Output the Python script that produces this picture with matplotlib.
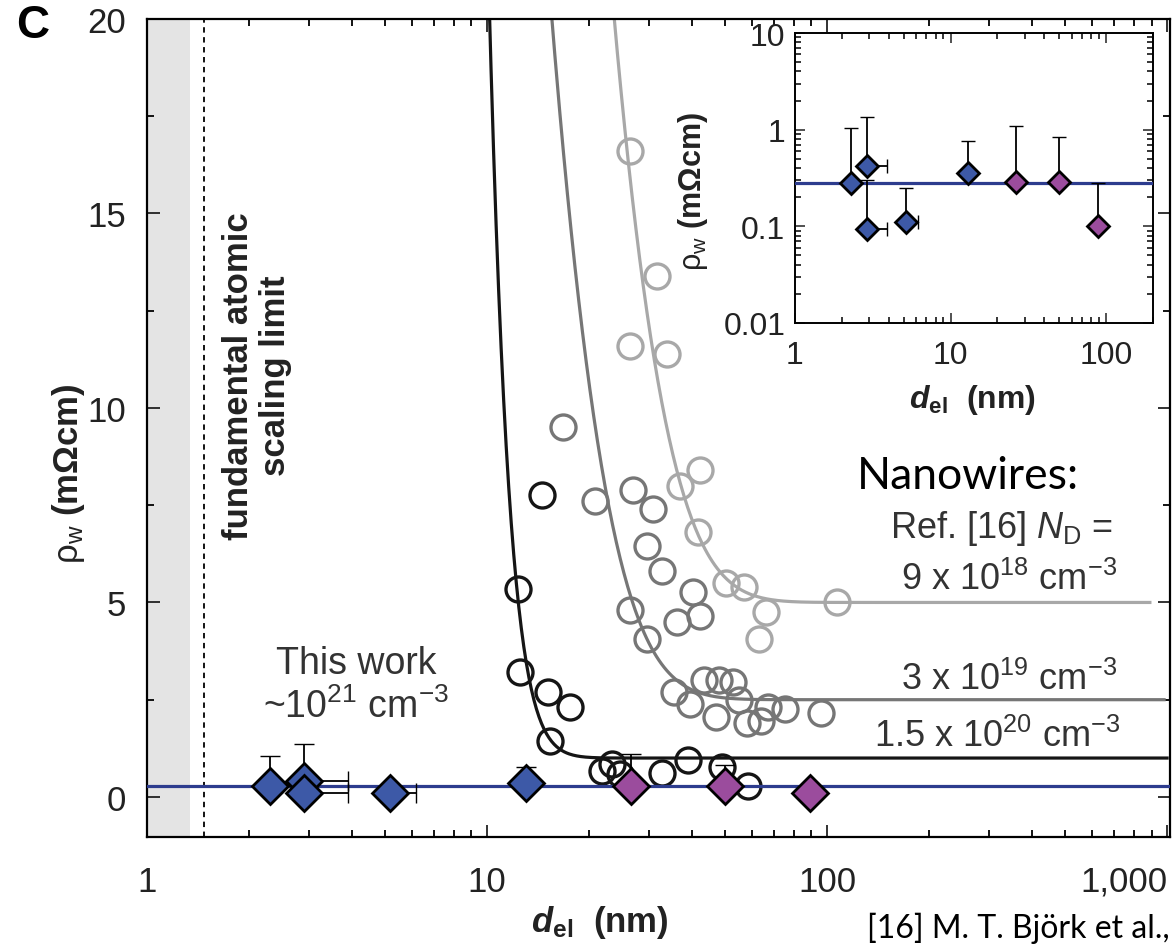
import numpy as np
import matplotlib
matplotlib.use("Agg")
import matplotlib.pyplot as plt
from matplotlib.ticker import FixedLocator, FixedFormatter, LogLocator, NullFormatter, MultipleLocator

plt.rcParams["font.family"] = ["Liberation Sans", "DejaVu Sans"]
plt.rcParams["mathtext.fontset"] = "custom"
plt.rcParams["mathtext.rm"] = "Liberation Sans"
plt.rcParams["mathtext.it"] = "Liberation Sans:italic"
plt.rcParams["mathtext.bf"] = "Liberation Sans:bold"
plt.rcParams["mathtext.bfit"] = "Liberation Sans:italic:bold"

# this work: blue = earlier devices, purple = later devices
blue_d = [2.3, 2.9, 2.9, 5.2, 13.0]
blue_rho = [0.28, 0.42, 0.093, 0.11, 0.36]
blue_rho_top = [1.05, 1.35, 0.30, 0.25, 0.77]
blue_d_right = [2.3, 3.9, 3.9, 6.2, 13.0]
purple_d = [26.5, 50.0, 89.0]
purple_rho = [0.29, 0.29, 0.10]
purple_rho_top = [1.1, 0.83, 0.28]
rho_this_work = 0.28

# Ref. [16] nanowires, three doping levels
nw_15e20_d = [12.3, 12.5, 14.5, 15.1, 15.3, 17.5, 21.8, 23.3, 24.6, 32.6, 39.0, 49.0, 58.5]
nw_15e20_rho = [5.35, 3.2, 7.75, 2.7, 1.45, 2.3, 0.67, 0.85, 0.6, 0.62, 0.95, 0.77, 0.28]
nw_3e19_d = [16.7, 20.8, 26.9, 30.8, 29.5, 32.8, 26.3, 29.5, 36.3, 40.3, 42.2,
             35.5, 39.5, 43.5, 48.0, 53.0, 47.0, 55.0, 58.0, 64.0, 67.0, 75.0, 96.0]
nw_3e19_rho = [9.5, 7.6, 7.9, 7.4, 6.45, 5.8, 4.8, 4.06, 4.5, 5.27, 4.65,
               2.7, 2.4, 3.0, 3.0, 2.95, 2.05, 2.5, 1.9, 1.95, 2.3, 2.25, 2.15]
nw_9e18_d = [26.3, 31.6, 26.3, 33.8, 42.3, 37.0, 41.7, 50.6, 57.0, 66.0, 63.0, 107.0]
nw_9e18_rho = [16.6, 13.4, 11.6, 11.4, 8.4, 8.0, 6.8, 5.5, 5.4, 4.75, 4.05, 5.0]

# fit parameters: bulk resistivity, crossover diameter, decay length, end of line
fit_rho_inf = [1.0, 2.5, 5.0]
fit_d_c = [14.3, 26.8, 32.9]
fit_lam = [1.4, 5.8, 8.4]
fit_d_end = [1000.0, 980.0, 890.0]

dark, mid, light = "#151515", "#767676", "#a8a8a8"
blue, purple, hline = "#3d59a7", "#9b4c9d", "#2d3c8e"
W, H = 1176, 945


def rho_fit(d, rho_inf, d_c, lam):
    return rho_inf * (1.0 + np.exp((d_c - d) / lam))


def ptext(fig, x, y, s, **kw):
    # place text by pixel position measured from the top-left corner
    return fig.text(x / W, 1 - y / H, s, **kw)


def draw_this_work(ax, ms, capsize, with_xerr):
    lo = [0] * len(blue_d)
    ax.errorbar(blue_d, blue_rho,
                yerr=[lo, np.array(blue_rho_top) - np.array(blue_rho)],
                xerr=[lo, np.array(blue_d_right) - np.array(blue_d)] if with_xerr else None,
                fmt="none", ecolor="black", elinewidth=1.3, capsize=capsize, zorder=4)
    ax.errorbar(purple_d, purple_rho,
                yerr=[[0] * 3, np.array(purple_rho_top) - np.array(purple_rho)],
                fmt="none", ecolor="black", elinewidth=1.3, capsize=capsize, zorder=4)
    ax.plot(blue_d, blue_rho, "D", ms=ms, mfc=blue, mec="black", mew=2, zorder=5)
    ax.plot(purple_d, purple_rho, "D", ms=ms, mfc=purple, mec="black", mew=2, zorder=5)


fig = plt.figure(figsize=(11.76, 9.45), dpi=100)
ax = fig.add_axes([147 / W, 1 - 838 / H, 1023 / W, 818 / H])

ax.axvspan(1, 1.34, color="#e4e4e4", lw=0, zorder=0)
ax.axvline(1.47, color="black", ls=(0, (3, 2.5)), lw=1.3, zorder=1)

for rinf, dc, lam, dend, col in zip(fit_rho_inf, fit_d_c, fit_lam, fit_d_end, [dark, mid, light]):
    d = np.logspace(np.log10(6), np.log10(dend), 600)
    ax.plot(d, rho_fit(d, rinf, dc, lam), color=col, lw=2.3, zorder=2)

circ = dict(ls="none", marker="o", ms=18, mfc="none", mew=2.4, zorder=3)
ax.plot(nw_9e18_d, nw_9e18_rho, mec=light, **circ)
ax.plot(nw_3e19_d, nw_3e19_rho, mec=mid, **circ)
ax.plot(nw_15e20_d, nw_15e20_rho, mec=dark, **circ)

ax.axhline(rho_this_work, color=hline, lw=2.3, zorder=3)
draw_this_work(ax, 18, 7, True)

ax.set_xscale("log")
ax.set_xlim(1, 1020)
ax.set_ylim(-1.03, 20)
ax.xaxis.set_major_locator(FixedLocator([1, 10, 100, 1000]))
ax.xaxis.set_major_formatter(FixedFormatter(["1", "10", "100", "1,000"]))
ax.xaxis.set_minor_locator(LogLocator(base=10, subs=np.arange(2, 10)))
ax.xaxis.set_minor_formatter(NullFormatter())
ax.yaxis.set_major_locator(FixedLocator([0, 5, 10, 15, 20]))
ax.yaxis.set_minor_locator(MultipleLocator(2.5))
ax.tick_params(which="both", direction="in", top=True, right=True, width=1.3)
ax.tick_params(which="major", length=9, labelsize=25, colors="#222222")
ax.tick_params(which="minor", length=5)
ax.tick_params(axis="y", pad=15)
ax.tick_params(axis="x", pad=20)
for s in ax.spines.values():
    s.set_linewidth(1.6)
fig.canvas.draw()
ax.get_xticklabels()[-1].set_horizontalalignment("right")

ax.text(-0.077, 0.446, r"$\mathrm{\rho}_\mathrm{w}$ $\mathbf{(m\Omega cm)}$", transform=ax.transAxes,
        rotation=90, ha="center", va="center", fontsize=25, color="#222222")
ax.text(0.443, -0.103, r"$\mathbfit{d}_\mathbf{el}$  (nm)", transform=ax.transAxes,
        ha="center", va="center", fontsize=25, fontweight="bold", color="#222222")

ptext(fig, 257, 376, "fundamental atomic\nscaling limit", rotation=90,
      ha="center", va="center", fontsize=25, fontweight="bold", linespacing=1.15,
      color="#222222")
ptext(fig, 356, 686, "This work\n~10$^{21}$ cm$^{-3}$",
      ha="center", va="center", fontsize=27, linespacing=1.25, color="#333333")

ptext(fig, 968, 477, "Nanowires:", ha="center", va="center",
      fontsize=32, family=["Lato", "DejaVu Sans"], color="black")
txt = dict(ha="right", va="center", fontsize=26, color="#333333")
ptext(fig, 1113, 528, r"Ref. [16] $N_\mathrm{D}$ =", **txt)
ptext(fig, 1117, 580, r"9 x 10$^{18}$ cm$^{-3}$", **txt)
ptext(fig, 1117, 680, r"3 x 10$^{19}$ cm$^{-3}$", **txt)
ptext(fig, 1120, 737, r"1.5 x 10$^{20}$ cm$^{-3}$", **txt)

ptext(fig, 33, 26, "C", ha="center", va="center", fontsize=33, fontweight="bold")
ptext(fig, 1170, 928, "[16] M. T. Björk et al.,", ha="right", va="center",
      fontsize=23, family=["Lato", "DejaVu Sans"], color="black")

# inset: same data on log-log axes
ins = fig.add_axes([795 / W, 1 - 324 / H, 358 / W, 290 / H])
ins.set_facecolor("white")
ins.axhline(rho_this_work, color=hline, lw=2.3, zorder=3)
draw_this_work(ins, 11, 5, True)
ins.set_xscale("log")
ins.set_yscale("log")
ins.set_xlim(1, 200)
ins.set_ylim(0.01, 10)
ins.xaxis.set_major_locator(FixedLocator([1, 10, 100]))
ins.xaxis.set_major_formatter(FixedFormatter(["1", "10", "100"]))
ins.yaxis.set_major_locator(FixedLocator([0.01, 0.1, 1, 10]))
ins.yaxis.set_major_formatter(FixedFormatter(["0.01", "0.1", "1", "10"]))
for a in (ins.xaxis, ins.yaxis):
    a.set_minor_locator(LogLocator(base=10, subs=np.arange(2, 10)))
    a.set_minor_formatter(NullFormatter())
ins.tick_params(which="both", direction="in", top=True, right=True, width=1.1)
ins.tick_params(which="major", length=7, labelsize=23, colors="#222222")
ins.tick_params(which="minor", length=4)
ins.tick_params(axis="y", pad=7)
ins.tick_params(axis="x", pad=12)
for s in ins.spines.values():
    s.set_linewidth(1.4)
ins.text(-0.285, 0.455, r"$\mathrm{\rho}_\mathrm{w}$ $\mathbf{(m\Omega cm)}$", transform=ins.transAxes,
         rotation=90, ha="center", va="center", fontsize=22, color="#222222")
ins.text(0.497, -0.262, r"$\mathbfit{d}_\mathbf{el}$  (nm)", transform=ins.transAxes,
         ha="center", va="center", fontsize=23, fontweight="bold", color="#222222")

fig.savefig("out.png", dpi=100)
